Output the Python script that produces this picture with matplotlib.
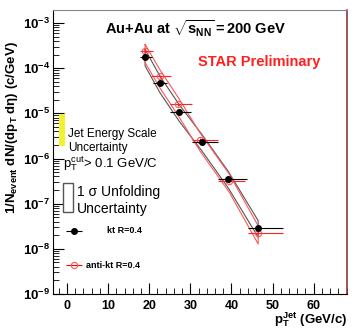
import numpy as np
import matplotlib
matplotlib.use("Agg")
import matplotlib.pyplot as plt
from matplotlib.patches import Rectangle
from matplotlib.ticker import FixedLocator, LogLocator, FuncFormatter, MultipleLocator

plt.rcParams['font.family'] = ['Liberation Sans', 'DejaVu Sans']
plt.rcParams['mathtext.fontset'] = 'custom'
plt.rcParams['mathtext.rm'] = 'Liberation Sans'
plt.rcParams['mathtext.it'] = 'Liberation Sans:italic'
plt.rcParams['mathtext.bf'] = 'Liberation Sans:bold'

# ---- data ----
kt_x = np.array([19.0, 22.6, 27.3, 32.9, 39.2, 46.5])
kt_y = np.array([1.8e-4, 4.6e-5, 1.07e-5, 2.3e-6, 3.6e-7, 2.9e-8])
kt_xlo = np.array([1.2, 1.75, 2.2, 2.6, 2.4, 2.4])
kt_xhi = np.array([1.6, 1.7, 2.8, 3.9, 4.7, 6.0])

akt_x = np.array([19.0, 22.6, 27.1, 32.4, 39.5, 46.5])
akt_y = np.array([2.4e-4, 6.6e-5, 1.58e-5, 2.6e-6, 3.2e-7, 2.3e-8])
akt_xlo = np.array([1.2, 2.2, 2.0, 1.9, 2.8, 2.4])
akt_xhi = np.array([1.9, 2.6, 3.2, 4.4, 3.8, 6.0])

kt_band_up, kt_band_dn = 1.45, 1.6
akt_band_up, akt_band_dn = 1.4, 1.8

jes_x = [-1.9, -0.4]
jes_y = [1.87e-6, 9.5e-6]

xticks = [0, 10, 20, 30, 40, 50, 60]
ydecades = [-9, -8, -7, -6, -5, -4, -3]

W, H = 356, 333
fig = plt.figure(figsize=(W / 100, H / 100), dpi=100)
ax = fig.add_axes([53 / W, 1 - 294 / H, (347 - 53) / W, (294 - 10) / H])
ax.set_yscale('log')
ax.set_xlim(-3.4, 68.1)
ax.set_ylim(1e-9, 10 ** -2.711)

def band(x, y, fu, fd, color):
    xs = np.concatenate([x, x[::-1], x[:1]])
    ys = np.concatenate([y * fu, (y / fd)[::-1], y[:1] * fu])
    ax.plot(xs, ys, color=color, lw=0.8, zorder=2)

band(kt_x, kt_y, kt_band_up, kt_band_dn, '#555555')
band(akt_x, akt_y, akt_band_up, akt_band_dn, '#ff5555')

ax.errorbar(kt_x, kt_y, xerr=[kt_xlo, kt_xhi], yerr=0.08 * kt_y, fmt='o', color='black',
            ms=4, lw=0.8, capsize=0, zorder=4)
ax.errorbar(akt_x, akt_y, xerr=[akt_xlo, akt_xhi], yerr=0.08 * akt_y, fmt='o', color='red',
            mfc='none', mec='#ff5555', ecolor='#ff2020', ms=4.5, mew=0.8, lw=0.8, capsize=0, zorder=3)

# JES uncertainty box
ax.add_patch(Rectangle((jes_x[0], jes_y[0]), jes_x[1] - jes_x[0], jes_y[1] - jes_y[0],
                       facecolor='#f2f230', edgecolor='none', zorder=3))
ax.text(0.25, 10 ** -5.62, 'Jet Energy Scale\nUncertainty', fontsize=8.5, va='center', ha='left',
        linespacing=1.25)
ax.text(-0.97, 10 ** -6.11, r'p$_{\rm T}^{\rm cut}$> 0.1 GeV/C', fontsize=9.5, va='center', ha='left')
# unfolding legend box
ax.add_patch(Rectangle((-0.97, 6.5e-8), 2.36, 2.8e-7 - 6.5e-8, facecolor='white',
                       edgecolor='#555555', lw=1.0, zorder=3))
ax.text(2.43, 10 ** -6.93, '1 σ Unfolding\nUncertainty', fontsize=10, va='center', ha='left',
        linespacing=1.2)
# legend entries
ax.errorbar([1.7], [10 ** -7.6], xerr=[[1.95], [1.95]], fmt='o', color='black', ms=4, lw=0.8)
ax.text(9.7, 10 ** -7.6, 'kt R=0.4', fontsize=6.5, fontweight='bold', va='center', ha='left')
ax.errorbar([1.7], [10 ** -8.36], xerr=[[1.95], [1.95]], fmt='o', color='red', mfc='none',
            mec='#ff5555', ms=4.5, mew=0.8, lw=0.8)
ax.text(4.6, 10 ** -8.36, 'anti-kt R=0.4', fontsize=6.5, fontweight='bold', va='center', ha='left')

# ticks
ax.xaxis.set_major_locator(FixedLocator(xticks))
ax.xaxis.set_minor_locator(MultipleLocator(2))
ax.yaxis.set_major_locator(FixedLocator([10.0 ** d for d in ydecades]))
ax.yaxis.set_minor_locator(LogLocator(base=10, subs=np.arange(2, 10)))
ax.yaxis.set_major_formatter(FuncFormatter(lambda v, p: r'$\mathbf{10^{%d}}$' % int(round(np.log10(v)))))
ax.xaxis.set_major_formatter(FuncFormatter(lambda v, p: '%d' % v))
ax.tick_params(which='major', direction='in', length=8, width=0.8, pad=2,
               top=False, right=False)
ax.tick_params(which='minor', direction='in', length=4, width=0.6, top=False, right=False)
ax.tick_params(axis='x', which='major', pad=4, labelsize=9)
ax.tick_params(axis='y', which='major', labelsize=9.5)
for lab in ax.get_xticklabels():
    lab.set_fontweight('bold')
ax.spines['top'].set_color('#888888')
ax.spines['right'].set_color('#8b3a3a')
ax.spines['right'].set_linewidth(1.2)

fig.text(12 / W, 1 - 128 / H, r'$\mathbf{1/N_{event}\ dN/(dp_T\ d\eta)\ (c/GeV)}$',
         rotation=90, fontsize=9.5, ha='center', va='center')
fig.text(347 / W, 1 - 320 / H, r'$\mathbf{p_T^{Jet}}$ (GeV/c)', fontsize=9.5, fontweight='bold',
         ha='right', va='center')
fig.text(195 / W, 1 - 29 / H, r'$\mathbf{Au{+}Au\ at\ \sqrt{s_{NN}}{=}200\ GeV}$', fontsize=10.5,
         ha='center', va='center')
fig.text(259.5 / W, 1 - 61.7 / H, 'STAR Preliminary', color='#ff2020', fontsize=10.5,
         fontweight='bold', ha='center', va='center')

fig.savefig('out.png', dpi=100)
